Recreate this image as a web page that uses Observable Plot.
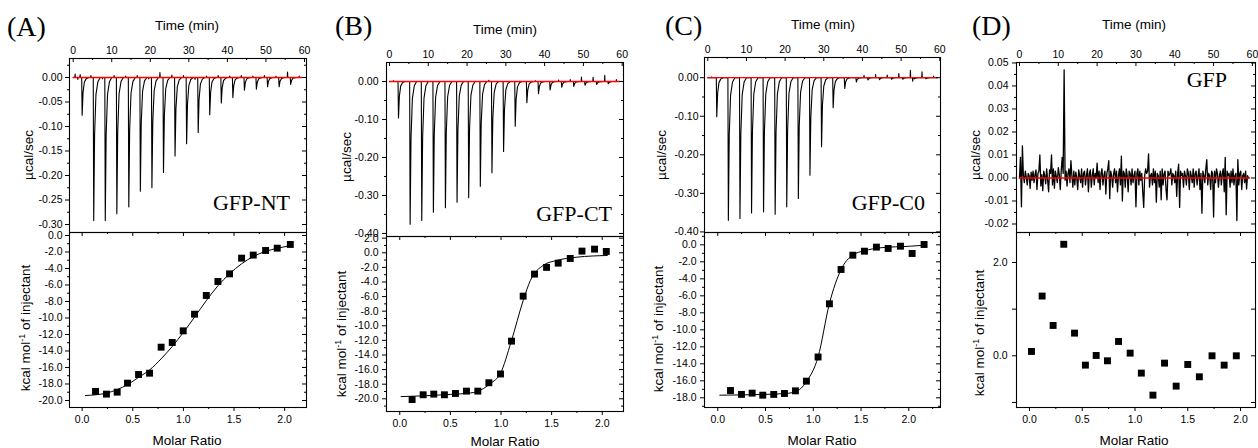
<!DOCTYPE html>
<html><head><meta charset="utf-8">
<script src="https://cdn.jsdelivr.net/npm/d3@7"></script>
<script src="https://cdn.jsdelivr.net/npm/@observablehq/plot@0.6"></script>
<style>
body{margin:0;background:#fff;}
#fig{position:relative;width:1258px;height:448px;overflow:hidden;background:#fff;}
</style></head><body><div id="fig"></div>
<script>
// ================= DATA =================
// injection times (min) of the raw thermograms
const injTimes = [2.2, 5.2, 8.2, 11.2, 14.3, 17.3, 20.3, 23.3, 26.3, 29.3, 32.3, 35.3, 38.3, 41.3, 44.3, 47.4, 50.3, 53.3, 56.3];
// peak depths (µcal/sec)
const peaksA = [-0.077, -0.292, -0.292, -0.278, -0.264, -0.232, -0.225, -0.194, -0.160, -0.135, -0.112, -0.076, -0.052, -0.041, -0.026, -0.024, -0.019, -0.019, -0.014];
const peaksB = [-0.096, -0.376, -0.366, -0.344, -0.332, -0.318, -0.306, -0.276, -0.240, -0.184, -0.118, -0.056, -0.032, -0.022, -0.015, -0.013, -0.010, -0.008, -0.006];
const peaksC = [-0.101, -0.370, -0.365, -0.351, -0.348, -0.354, -0.335, -0.313, -0.253, -0.179, -0.078, -0.028, -0.011, -0.006, -0.005, -0.004, -0.004, -0.003, -0.003];
// short baseline excursions [time, µcal/sec]
const bumpsA = [[0.5,0.007],[1.2,-0.004],[1.8,0.006],[4.6,0.004],[7.6,-0.003],[10.6,0.004],[13.6,0.003],[16.6,0.004],[19.6,-0.003],[22.5,0.010],[25.6,0.005],[28.6,0.004],[31.6,-0.004],[34.6,0.003],[37.6,0.004],[40.6,0.003],[43.6,0.004],[46.6,0.003],[49.6,0.004],[52.6,0.003],[55.6,0.011],[58.6,0.003]];
const bumpsB = [[1.0,0.002],[25.6,0.003],[37.6,0.002],[43.6,0.004],[46.6,0.005],[49.5,0.012],[52.5,0.011],[55.5,0.016],[58.5,0.005]];
const bumpsC = [[1.0,0.002],[40.4,0.006],[43.4,0.008],[46.4,0.007],[49.4,0.011],[52.4,0.019],[53.0,-0.009],[55.4,0.015],[58.4,0.004]];
// peak profile template [minutes after injection, fraction of depth]
const peakShape = [[0,0],[0.12,1],[0.35,0.4],[0.7,0.12],[1.2,0.03],[1.8,0]];
// panel D raw trace, one value every 0.25 min, in 0.001 µcal/sec
const dStep = 0.25;
const dTrace = [
 0,9,-12.5,14, 1,-2,3,0.5, -3,2,1,-4.5, 2.5,-1,3,-2, 1.5,3.5,-5,2,
 3,10,-3.5,1.5, -5.5,3,1,-2.5, 4,-1,-6,3.5, 2,10,-3,4, -4.5,3,0.5,-2,
 4.5,1.5,-5,3, 9,2,47,-1, 3,-3.5,2,4, -2,7.5,1,-4, 3,-3,2.5,0,
 -5,3.5,1,-2, 4,-4,2,3, -3,1,4,-6, 2,3.5,-4,1, 4,-3,2,0,
 6.5,-2,3,-5, 2,4,-3,1, 3,-7,2,4, 7.5,-9,3,1, -4,2,4,-2,
 3,-6,1,4, -3,9.5,-10,3, 2,-4,4,1, -6,3,2,-3, 4,-2,1,3,
 -12.5,2,4,-3, 3,-1,2,-6, -12.8,1,4,2, 3,10.5,-4,1, 2,-3,4,-2,
 3,-10.5,2,1, -4,3,-9.5,4, -3,2,3,-5, -9.5,3,1,2, 4,-3,2,1,
 -2,3,-8,2, 6,-12.8,3,1, 2,-4,3,1, -3,4,2,-5, 3,1,-2,4,
 -4,2,3,-3, 1,4,-5,2, -15.3,3,1,-2, 4,8,-3,2, 1,-5,3,2,
 -17,3,-2,4, 2,-4,1,3, -3,2,4,-6, 9,-16,3,1, 2,-4,3,-2,
 4,-3,1,2, -18.5,8,-3,2, 3,-5,1,2, -2,3,-4.8,1, 0
];
// integrated heats (kcal/mol of injectant) vs molar ratio
const ratioA = [0.132,0.240,0.346,0.448,0.557,0.666,0.780,0.890,0.998,1.110,1.226,1.341,1.456,1.575,1.690,1.812,1.927,2.056];
const heatA  = [-18.9,-19.23,-18.99,-17.9,-16.85,-16.69,-13.54,-12.97,-11.56,-9.54,-7.27,-5.58,-4.65,-2.75,-2.38,-1.82,-1.54,-1.09];
const fitRatioA = [0.033,0.24,0.45,0.557,0.666,0.78,0.89,1.0,1.11,1.226,1.341,1.456,1.575,1.69,1.81,1.93,2.056];
const fitHeatA  = [-19.4,-19.1,-18.06,-17.2,-16.3,-14.95,-13.45,-11.75,-9.9,-7.9,-6.1,-4.65,-3.43,-2.55,-1.94,-1.54,-1.25];
const ratioB = [0.122,0.231,0.336,0.441,0.550,0.659,0.771,0.880,0.995,1.104,1.219,1.331,1.450,1.565,1.684,1.800,1.924,2.040];
const heatB  = [-20.1,-19.45,-19.36,-19.45,-19.27,-18.95,-18.95,-17.8,-16.6,-12.1,-5.94,-2.92,-2.0,-1.42,-0.78,0.23,0.50,0.18];
const fitRatioB = [0.013,0.3,0.5,0.7,0.764,0.896,0.995,1.1,1.22,1.29,1.42,1.55,1.75,2.05];
const fitHeatB  = [-19.7,-19.55,-19.4,-19.2,-19.0,-17.9,-16.5,-12.2,-6.5,-3.8,-1.7,-1.05,-0.6,-0.37];
const ratioC = [0.133,0.248,0.360,0.471,0.586,0.698,0.813,0.928,1.050,1.169,1.291,1.414,1.536,1.661,1.784,1.913,2.035,2.160];
const heatC  = [-17.14,-17.6,-17.45,-17.69,-17.6,-17.49,-17.18,-16.04,-13.2,-6.94,-2.9,-1.22,-0.75,-0.27,-0.43,-0.16,-1.02,0.04];
const fitRatioC = [0.021,0.48,0.70,0.813,0.928,1.05,1.169,1.291,1.414,1.536,1.70,2.02,2.17];
const fitHeatC  = [-17.69,-17.6,-17.5,-17.3,-16.1,-13.2,-6.9,-2.9,-1.2,-0.7,-0.35,-0.16,-0.04];
const ratioD = [0.019,0.120,0.224,0.325,0.427,0.530,0.632,0.739,0.844,0.954,1.060,1.170,1.280,1.390,1.500,1.610,1.730,1.845,1.960];
const heatD  = [0.093,1.28,0.65,2.39,0.486,-0.20,0.007,-0.107,0.307,0.057,-0.371,-0.843,-0.157,-0.65,-0.186,-0.45,0.0,-0.20,0.0];
// tick values
const timeTicks = [0,10,20,30,40,50,60];
const timeMinor = [5,15,25,35,45,55];
const ratioTicks = [0,0.5,1.0,1.5,2.0];
const ratioMinor = [0.25,0.75,1.25,1.75,2.25];
const rawTicksA = [0,-0.05,-0.10,-0.15,-0.20,-0.25,-0.30];
const rawMinorA = [0.025,-0.025,-0.075,-0.125,-0.175,-0.225,-0.275];
const rawTicksBC = [0,-0.10,-0.20,-0.30,-0.40];
const rawMinorBC = [-0.05,-0.15,-0.25,-0.35];
const rawTicksD = [0.05,0.04,0.03,0.02,0.01,0,-0.01,-0.02];
const rawMinorD = [0.045,0.035,0.025,0.015,0.005,-0.005,-0.015];
const heatTicksA = [0,-2,-4,-6,-8,-10,-12,-14,-16,-18,-20];
const heatMinorA = [-1,-3,-5,-7,-9,-11,-13,-15,-17,-19];
const heatTicksB = [2,0,-2,-4,-6,-8,-10,-12,-14,-16,-18,-20];
const heatMinorB = [1,-1,-3,-5,-7,-9,-11,-13,-15,-17,-19,-21];
const heatTicksC = [0,-2,-4,-6,-8,-10,-12,-14,-16,-18];
const heatMinorC = [1,-1,-3,-5,-7,-9,-11,-13,-15,-17,-19];
const heatTicksD = [2,0];
const heatUnlabeledD = [1,-1];

// ================= BUILD =================
function buildTrace(peaks, bumps) {
  const pts = [{t:0, v:0}];
  injTimes.forEach((t0, i) => peakShape.forEach(([dt, f]) => pts.push({t: t0 + dt, v: peaks[i] * f})));
  bumps.forEach(([t, v]) => pts.push({t: t - 0.08, v: 0}, {t, v}, {t: t + 0.08, v: 0}));
  pts.push({t: 59.3, v: 0});
  return pts.sort((a, b) => a.t - b.t);
}
const zip = (xs, ys) => xs.map((x, i) => ({x, y: ys[i]}));
const traceD = dTrace.map((v, i) => ({t: i * dStep, v: v / 1000}));
const baseline = [{t:0, v:0}, {t:59.3, v:0}];

const fig = document.getElementById("fig");
const SANS = '"Liberation Sans", Arial, sans-serif';
const SERIF = '"Liberation Serif", "Times New Roman", serif';

function subplot(o) {
  const W = o.R - o.L, H = o.B - o.T;
  const inDom = (v, d) => v >= Math.min(...d) && v <= Math.max(...d);
  const xMaj = o.xMaj.filter(v => inDom(v, o.xd)), xMin = o.xMin.filter(v => inDom(v, o.xd));
  const yMaj = o.yMaj.filter(v => inDom(v, o.yd)), yMin = o.yMin.filter(v => inDom(v, o.yd));
  const yExtra = (o.yExtra || []).filter(v => inDom(v, o.yd));
  const marks = [
    ...o.marks,
    Plot.frame({stroke: "#000", strokeWidth: 1.1}),
    Plot.ruleX(xMaj, {insetBottom: H - 4, stroke: "#000"}),
    Plot.ruleX(xMin, {insetBottom: H - 2, stroke: "#000"}),
    Plot.ruleY([...yMaj, ...yExtra], {insetLeft: -4, insetRight: W, stroke: "#000"}),
    Plot.ruleY(yMin, {insetLeft: -2, insetRight: W, stroke: "#000"}),
    Plot.ruleY([...yMaj, ...yExtra], {insetLeft: W - 4, stroke: "#000"}),
    Plot.ruleY(yMin, {insetLeft: W - 2, stroke: "#000"}),
    Plot.axisY(yMaj, {anchor: "left", tickSize: 0, tickPadding: o.yPad, label: null, tickFormat: o.yFmt}),
  ];
  if (o.xTop) {
    marks.push(Plot.axisX(xMaj, {anchor: "top", tickSize: 0, tickPadding: 5, label: null, tickFormat: d => String(d)}));
  } else {
    marks.push(
      Plot.ruleX(xMaj, {insetTop: H, insetBottom: -4, stroke: "#000"}),
      Plot.ruleX(xMin, {insetTop: H, insetBottom: -2, stroke: "#000"}),
      Plot.axisX(xMaj, {anchor: "bottom", tickSize: 0, tickPadding: 8, label: null, tickFormat: d => d.toFixed(1)})
    );
  }
  const mL = 50, mR = 4, mT = o.xTop ? 24 : 1, mB = o.xTop ? 1 : 24;
  const svg = Plot.plot({
    width: W + mL + mR, height: H + mT + mB,
    marginLeft: mL, marginRight: mR, marginTop: mT, marginBottom: mB,
    x: {domain: o.xd}, y: {domain: o.yd},
    style: {fontFamily: SANS, fontSize: "10.5px", color: "#000", background: "none", overflow: "visible"},
    marks
  });
  svg.style.position = "absolute";
  svg.style.left = (o.L - mL) + "px";
  svg.style.top = (o.T - mT) + "px";
  fig.appendChild(svg);
}

const f2 = d => d.toFixed(2), f1 = d => d.toFixed(1);
const rawMarks = (trace, sw) => [
  Plot.line(trace, {x: "t", y: "v", stroke: "#000", strokeWidth: sw, clip: true}),
  Plot.line(baseline, {x: "t", y: "v", stroke: "#ff0000", strokeWidth: 1.3})
];
const heatMarks = (pts, fit, curve) => [
  ...(fit ? [Plot.line(fit, {x: "x", y: "y", curve, stroke: "#000", strokeWidth: 1})] : []),
  Plot.dot(pts, {x: "x", y: "y", symbol: "square", r: 3.9, fill: "#000", stroke: "none"})
];

const panels = [
  {L:69, R:306, T:58, M:232, B:407,
   top: {xd:[-0.96,60.52], yd:[-0.3163,0.0388], yMaj: rawTicksA, yMin: rawMinorA, yPad: 7, trace: buildTrace(peaksA, bumpsA), sw: 1.1},
   bot: {xd:[-0.125,2.216], yd:[-20.85,0.36], yMaj: heatTicksA, yMin: heatMinorA, yPad: 7, pts: zip(ratioA, heatA), fit: zip(fitRatioA, fitHeatA), curve: "monotone-x"}},
  {L:386, R:623, T:62, M:236, B:411,
   top: {xd:[-0.77,60.34], yd:[-0.408,0.05], yMaj: rawTicksBC, yMin: rawMinorBC, yPad: 8, trace: buildTrace(peaksB, bumpsB), sw: 1.1},
   bot: {xd:[-0.131,2.21], yd:[-21.74,2.23], yMaj: heatTicksB, yMin: heatMinorB, yPad: 8, pts: zip(ratioB, heatB), fit: zip(fitRatioB, fitHeatB), curve: "monotone-x"}},
  {L:704, R:940, T:57, M:232, B:407,
   top: {xd:[-0.85,60.18], yd:[-0.4015,0.0524], yMaj: rawTicksBC, yMin: rawMinorBC, yPad: 6, trace: buildTrace(peaksC, bumpsC), sw: 1.1},
   bot: {xd:[-0.139,2.332], yd:[-19.14,1.45], yMaj: heatTicksC, yMin: heatMinorC, yPad: 8, pts: zip(ratioC, heatC), fit: zip(fitRatioC, fitHeatC), curve: "monotone-x"}},
  {L:1016, R:1255, T:62, M:232, B:407,
   top: {xd:[-0.77,60.8], yd:[-0.0237,0.0502], yMaj: rawTicksD, yMin: rawMinorD, yPad: 8, trace: traceD, sw: 1.3},
   bot: {xd:[-0.123,2.142], yd:[-1.108,2.642], yMaj: heatTicksD, yMin: [], yExtra: heatUnlabeledD, yPad: 9, pts: zip(ratioD, heatD), fit: null}}
];

panels.forEach(p => {
  subplot({L:p.L, R:p.R, T:p.T, B:p.M, xd:p.top.xd, yd:p.top.yd, xMaj: timeTicks, xMin: timeMinor,
    yMaj: p.top.yMaj, yMin: p.top.yMin, yPad: p.top.yPad, yFmt: f2, xTop: true, marks: rawMarks(p.top.trace, p.top.sw)});
  subplot({L:p.L, R:p.R, T:p.M, B:p.B, xd:p.bot.xd, yd:p.bot.yd, xMaj: ratioTicks, xMin: ratioMinor,
    yMaj: p.bot.yMaj, yMin: p.bot.yMin, yExtra: p.bot.yExtra, yPad: p.bot.yPad, yFmt: f1, xTop: false,
    marks: heatMarks(p.bot.pts, p.bot.fit, p.bot.curve)});
});

// ================= TEXT OVERLAY =================
const letters = [["(A)",7,36],["(B)",335,35],["(C)",665,35],["(D)",972,35]];
const names = [["GFP-NT",290,210],["GFP-CT",612,221],["GFP-C0",925,210],["GFP",1227,87]];
const timeTitles = [[187,29.5],[505,33.5],[823,28.5],[1134,28.5]];
const ratioTitles = [[187,445],[505,446],[822,445],[1134,445]];
const rawTitles = [[28,155],[346,157],[661,155],[975,155]];
const heatTitles = [[25,328],[341,334],[658,329],[979,333]];

const ov = d3.create("svg").attr("width",1258).attr("height",448)
  .style("position","absolute").style("left","0px").style("top","0px").style("overflow","visible");
letters.forEach(([t,x,y]) => ov.append("text").attr("x",x).attr("y",y).attr("font-family",SERIF).attr("font-size",28).text(t));
names.forEach(([t,x,y]) => ov.append("text").attr("x",x).attr("y",y).attr("text-anchor","end").attr("font-family",SERIF).attr("font-size",22).text(t));
timeTitles.forEach(([x,y]) => ov.append("text").attr("x",x).attr("y",y).attr("text-anchor","middle").attr("font-family",SANS).attr("font-size",13.5).text("Time (min)"));
ratioTitles.forEach(([x,y]) => ov.append("text").attr("x",x).attr("y",y).attr("text-anchor","middle").attr("font-family",SANS).attr("font-size",13.5).text("Molar Ratio"));
rawTitles.forEach(([x,y]) => ov.append("text").attr("transform",`translate(${x},${y}) rotate(-90)`).attr("text-anchor","middle").attr("dy","0.35em").attr("font-family",SANS).attr("font-size",13.5).text("µcal/sec"));
heatTitles.forEach(([x,y]) => {
  const t = ov.append("text").attr("transform",`translate(${x},${y}) rotate(-90)`).attr("text-anchor","middle").attr("dy","0.35em").attr("font-family",SANS).attr("font-size",13.5);
  t.append("tspan").text("kcal mol");
  t.append("tspan").attr("dy",-5).attr("font-size",9).text("-1");
  t.append("tspan").attr("dy",5).text(" of injectant");
});
fig.appendChild(ov.node());
</script>
</body></html>
